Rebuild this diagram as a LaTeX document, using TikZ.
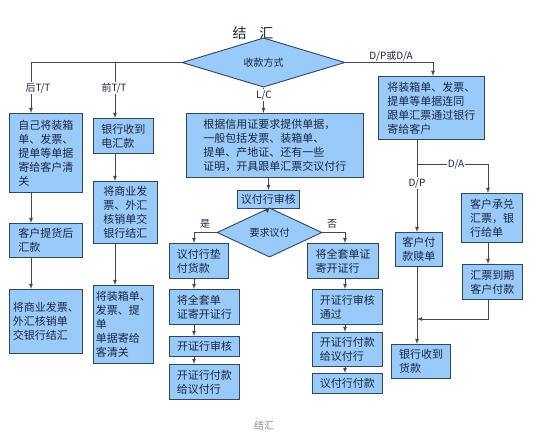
\documentclass[tikz,border=0pt]{standalone}
\usepackage{fontspec}
\newfontfamily\cjk{Noto Sans CJK SC}
\usetikzlibrary{shapes.geometric}
\definecolor{boxfill}{RGB}{153,202,248}
\definecolor{boxline}{RGB}{50,70,98}
\definecolor{linegray}{RGB}{72,72,72}
\definecolor{inktext}{RGB}{28,38,66}

\begin{document}
\begin{tikzpicture}[x=1pt, y=-1pt]
	\tikzstyle{arrow}=[draw=linegray, line width=0.8pt, -latex]
	\tikzstyle{box}=[draw=boxline, line width=0.9pt, fill=boxfill, anchor=north west, inner sep=0pt, align=left, text=inktext, font=\cjk\fontsize{11}{14}\selectfont]
	\tikzstyle{heavy}=[line width=1.4pt]
	\tikzstyle{choice}=[diamond, draw=boxline, line width=0.9pt, fill=boxfill, inner sep=0pt, text=inktext, font=\cjk\fontsize{10}{12}\selectfont]
	\tikzstyle{tag}=[fill=white, inner sep=1pt, text=inktext, font=\cjk\fontsize{10}{12}\selectfont]

	\useasboundingbox [fill=white] (0,0) rectangle (542,436);

	% columns of the arrows
	\coordinate (colA) at (31,0);
	\coordinate (colB) at (115,0);
	\coordinate (colC) at (194,0);
	\coordinate (colD) at (345,0);
	\coordinate (colE) at (417,0);
	\coordinate (colF) at (488,0);
	\coordinate (colG) at (433,0);
	\coordinate (split) at (417,164);
	\coordinate (merge) at (417,319);

	\node [font=\cjk\fontsize{14}{16}\selectfont, text=inktext] at (253,33) (title) {结\hspace{0.9em}汇};
	\node [choice, minimum width=163pt, minimum height=31pt] at (263.5,62.5) (pay) {收款方式};

	% T/T
	\node [box, minimum width=73pt, minimum height=79pt] at (9,113) (tt1) {自己将装箱\\单、发票、\\提单等单据\\寄给客户清\\关};
	\node [box, minimum width=73pt, minimum height=34pt] at (9,223) (tt2) {客户提货后\\汇款};
	\node [box, minimum width=73pt, minimum height=64pt] at (9,289) (tt3) {将商业发票、\\外汇核销单\\交银行结汇};
	\node [box, minimum width=60pt, minimum height=35pt] at (93,118) (ft1) {银行收到\\电汇款};
	\node [box, minimum width=64pt, minimum height=62pt] at (93,181) (ft2) {将商业发\\票、外汇\\核销单交\\银行结汇};
	\node [box, minimum width=60pt, minimum height=78pt] at (93,285) (ft3) {将装箱单、\\发票、提\\单\\单据寄给\\客清关};

	% L/C
	\node [box, minimum width=177pt, minimum height=64pt] at (186,113) (lc) {根据信用证要求提供单据，\\一般包括发票、装箱单、\\提单、产地证、还有一些\\证明，开具跟单汇票交议付行};
	\node [box, minimum width=62pt, minimum height=18pt] at (237,190) (review) {议付行审核};
	\node [choice, minimum width=105pt, minimum height=31pt] at (269.5,232.5) (ask) {要求议付};
	\node [box, minimum width=59pt, minimum height=35pt] at (169,243) (y1) {议付行垫\\付货款};
	\node [box, minimum width=70pt, minimum height=35pt] at (169,289) (y2) {将全套单\\证寄开证行};
	\node [box, heavy, minimum width=70pt, minimum height=20pt] at (169,336) (y3) {开证行审核};
	\node [box, minimum width=70pt, minimum height=35pt] at (169,364) (y4) {开证行付款\\给议付行};
	\node [box, heavy, minimum width=71pt, minimum height=35pt] at (307,243) (n1) {将全套单证\\寄开证行};
	\node [box, minimum width=70pt, minimum height=35pt] at (312,289) (n2) {开证行审核\\通过};
	\node [box, minimum width=70pt, minimum height=34pt] at (312,332) (n3) {开证行付款\\给议付行};
	\node [box, minimum width=70pt, minimum height=20pt] at (312,373) (n4) {议付行付款};

	% D/P, D/A
	\node [box, minimum width=106pt, minimum height=63pt] at (378,76) (d0) {将装箱单、发票、\\提单等单据连同\\跟单汇票通过银行\\寄给客户};
	\node [box, minimum width=47pt, minimum height=34pt] at (395,232) (dp1) {客户付\\款赎单};
	\node [box, heavy, minimum width=61pt, minimum height=49pt] at (461,193) (da1) {客户承兑\\汇票，银\\行给单};
	\node [box, minimum width=60pt, minimum height=35pt] at (462,264) (da2) {汇票到期\\客户付款};
	\node [box, heavy, minimum width=59pt, minimum height=34pt] at (391,344) (bank) {银行收到\\货款};

	% Path Arrows
	\path [arrow] (pay.west) -| (colA |- tt1.north);
	\path [arrow] (pay.west -| colB) -- (colB |- ft1.north);
	\path [arrow] (pay.south) -- (pay.south |- lc.north);
	\path [arrow] (pay.east) -| (colG |- d0.north);
	\foreach \a/\b in {tt1/tt2, tt2/tt3}
		\path [arrow] (colA |- \a.south) -- (colA |- \b.north);
	\foreach \a/\b in {ft1/ft2, ft2/ft3}
		\path [arrow] (colB |- \a.south) -- (colB |- \b.north);
	\path [arrow] (review.north |- lc.south) -- (review.north);
	\path [arrow] (review.south) -- (ask.north);
	\path [arrow] (ask.west) -| (colC |- y1.north);
	\path [arrow] (ask.east) -| (colD |- n1.north);
	\foreach \a/\b in {y1/y2, y2/y3, y3/y4}
		\path [arrow] (colC |- \a.south) -- (colC |- \b.north);
	\foreach \a/\b in {n1/n2, n2/n3, n3/n4}
		\path [arrow] (colD |- \a.south) -- (colD |- \b.north);
	\path [draw=linegray, line width=0.8pt] (colE |- d0.south) -- (split);
	\path [arrow] (split) -- (colE |- dp1.north);
	\path [arrow] (split) -| (colF |- da1.north);
	\path [arrow] (colF |- da1.south) -- (colF |- da2.north);
	\path [arrow] (colF |- da2.south) |- (merge);
	\path [arrow] (colE |- dp1.south) -- (colE |- bank.north);

	% labels
	\node [tag] at (38,88) (lblA) {后T/T};
	\node [tag] at (114,88) (lblB) {前T/T};
	\node [tag] at (264,95) (lblC) {L/C};
	\node [tag, fill=none, anchor=south] at (391,62) (lblD) {D/P或D/A};
	\node [tag] at (456,164) (lblE) {D/A};
	\node [tag] at (417,183) (lblF) {D/P};
	\node [tag, fill=none] at (205,224) (lblYes) {是};
	\node [tag, fill=none] at (332,224) (lblNo) {否};

	\node [font=\cjk\fontsize{10}{12}\selectfont, text=black!45] at (264,426) (caption) {结汇};
\end{tikzpicture}
\end{document}
